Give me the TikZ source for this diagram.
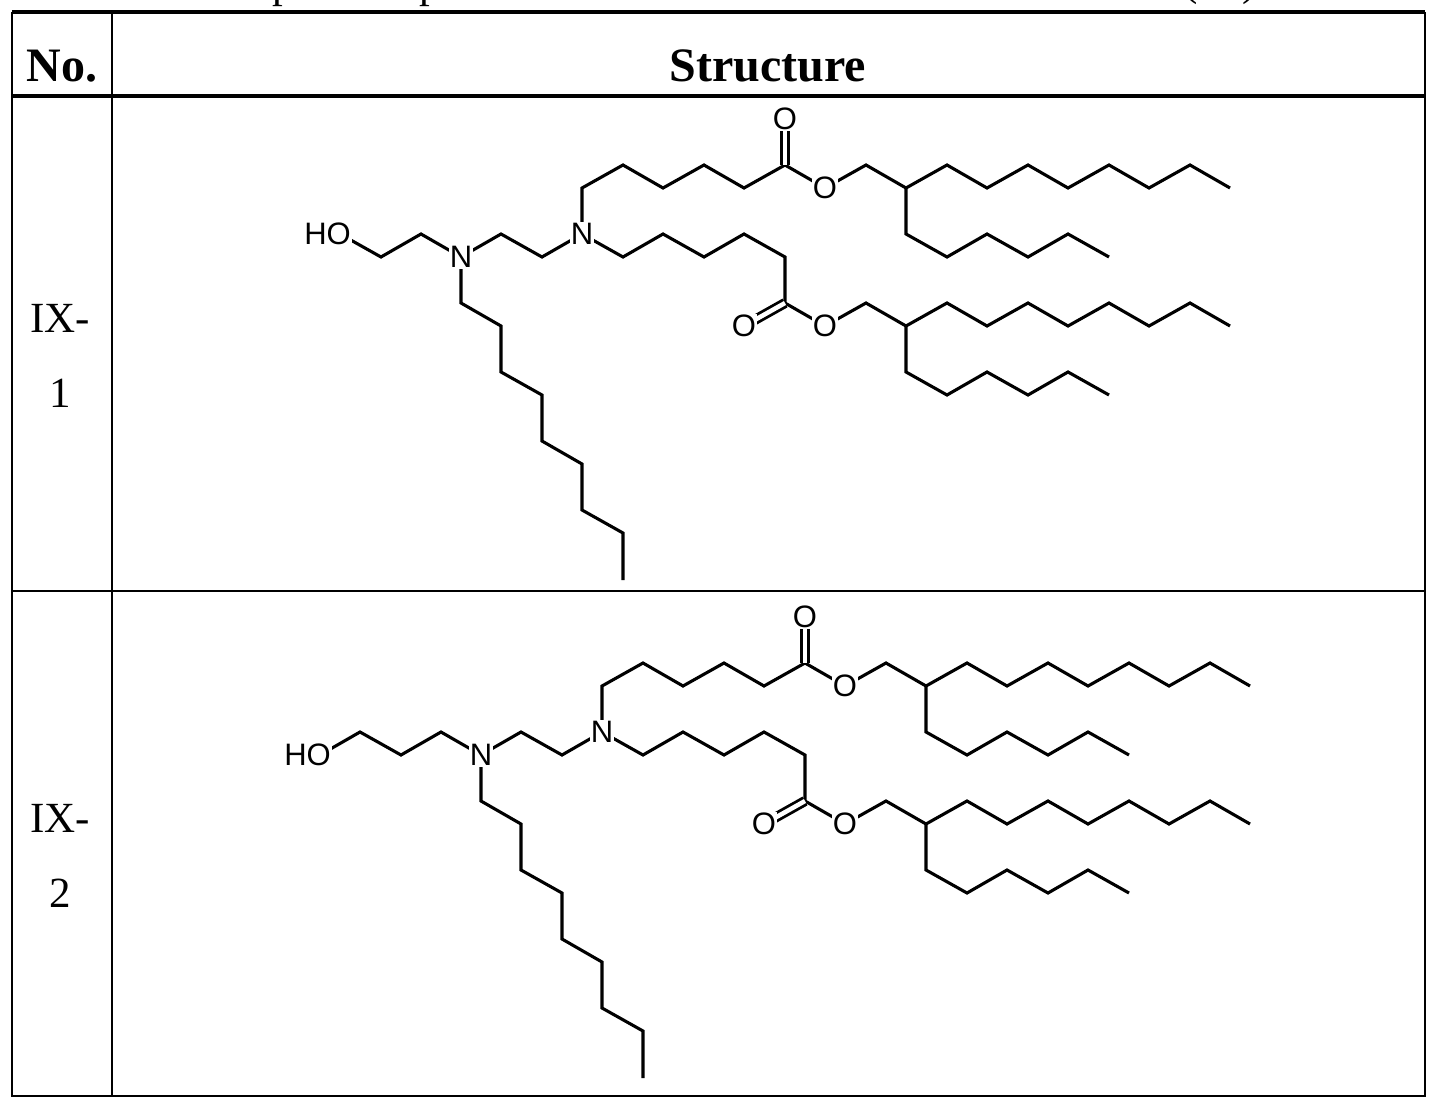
\documentclass[tikz,border=0pt]{standalone}
\usepackage{fontspec}
\usetikzlibrary{calc}
\setmainfont{Liberation Serif}
\newfontfamily\atomfont{Liberation Sans}
\begin{document}
\begin{tikzpicture}[x=1pt,y=-1pt,
  bond/.style={line width=3.1pt,line join=miter},
  dbl/.style={line width=2.8pt,double,double distance=4.5pt},
  atom/.style={fill=white,inner sep=1pt,font=\atomfont\fontsize{31}{31}\selectfont},
  tbl/.style={line width=2pt},
  tblthick/.style={line width=3.2pt},
  hdr/.style={font=\bfseries\fontsize{48}{48}\selectfont},
  lbl/.style={font=\fontsize{43}{43}\selectfont}]
\useasboundingbox (0,0) rectangle (1435,1105);
% clipped caption fragment
\begin{scope}
\clip (0,0) rectangle (1435,11);
\node[lbl,anchor=base] at (283,-2) {p};
\node[lbl,anchor=base] at (430,-2) {p};
\node[lbl,anchor=base] at (1220,-4) {(IX)};
\end{scope}
% table
\draw[tblthick] (12,12) -- (1425,12);
\draw[tblthick] (12,96) -- (1425,96);
\draw[tbl] (12,12) -- (12,1096) -- (1425,1096) -- (1425,12);
\draw[tbl] (112,12) -- (112,1096);
\draw[tbl] (12,591) -- (1425,591);
\node[hdr] (hno) at (62,66) {No.};
\node[hdr] (hst) at (768,66) {Structure};
\node[lbl] (l1a) at (60,318) {IX-};
\node[lbl] (l1b) at (60,393) {1};
\node[lbl] (l2a) at (60,818) {IX-};
\node[lbl] (l2b) at (60,893) {2};
\newcommand\common{%
  \coordinate (N1) at (461,257); \coordinate (N2) at (582,234);
  \draw[bond] (N1) -- (501,234) -- (542,257) -- (N2);
  \draw[bond] (N1) -- (461,303) -- (501,326) -- (501,372) -- (542,395) -- (542,441) -- (582,464) -- (582,510) -- (623,533) -- (623,580);
  % upper arm
  \coordinate (C1) at (785,165); \coordinate (O1d) at (785,119); \coordinate (O1e) at (825,188);
  \draw[bond] (N2) -- (582,188) -- (623,165) -- (663,188) -- (704,165) -- (744,188) -- (C1) -- (O1e) -- (866,165) -- (906,188)
    -- (947,165) -- (987,188) -- (1028,165) -- (1068,188) -- (1109,165) -- (1149,188) -- (1190,165) -- (1230,188);
  \draw[bond] (906,188) -- (906,234) -- (947,257) -- (987,234) -- (1028,257) -- (1068,234) -- (1109,257);
  \draw[dbl] (C1) -- (O1d);
  % lower arm
  \coordinate (C2) at (785,303); \coordinate (O2d) at (744,326); \coordinate (O2e) at (825,326);
  \draw[bond] (N2) -- (623,257) -- (663,234) -- (704,257) -- (744,234) -- (785,257) -- (C2) -- (O2e) -- (866,303) -- (906,326)
    -- (947,303) -- (987,326) -- (1028,303) -- (1068,326) -- (1109,303) -- (1149,326) -- (1190,303) -- (1230,326);
  \draw[bond] (906,326) -- (906,372) -- (947,395) -- (987,372) -- (1028,395) -- (1068,372) -- (1109,395);
  \draw[dbl] (C2) -- (O2d);
}
\newcommand\labels{%
  \node[atom] (n1) at (N1) {N};
  \node[atom] (n2) at (N2) {N};
  \node[atom] (o1d) at (O1d) {O};
  \node[atom] (o1e) at (O1e) {O};
  \node[atom] (o2d) at (O2d) {O};
  \node[atom] (o2e) at (O2e) {O};
}
\begin{scope}
\common
\coordinate (OH) at (340,234);
\draw[bond] (N1) -- (421,234) -- (381,257) -- (OH);
\labels
\node[atom,anchor=east] (ho) at ($(OH)+(12,0)$) {HO};
\end{scope}
\begin{scope}[shift={(20,498)}]
\common
\coordinate (OH) at (300,257);
\draw[bond] (N1) -- (421,234) -- (381,257) -- (340,234) -- (OH);
\labels
\node[atom,anchor=east] (ho2) at ($(OH)+(12,0)$) {HO};
\end{scope}
\end{tikzpicture}
\end{document}
